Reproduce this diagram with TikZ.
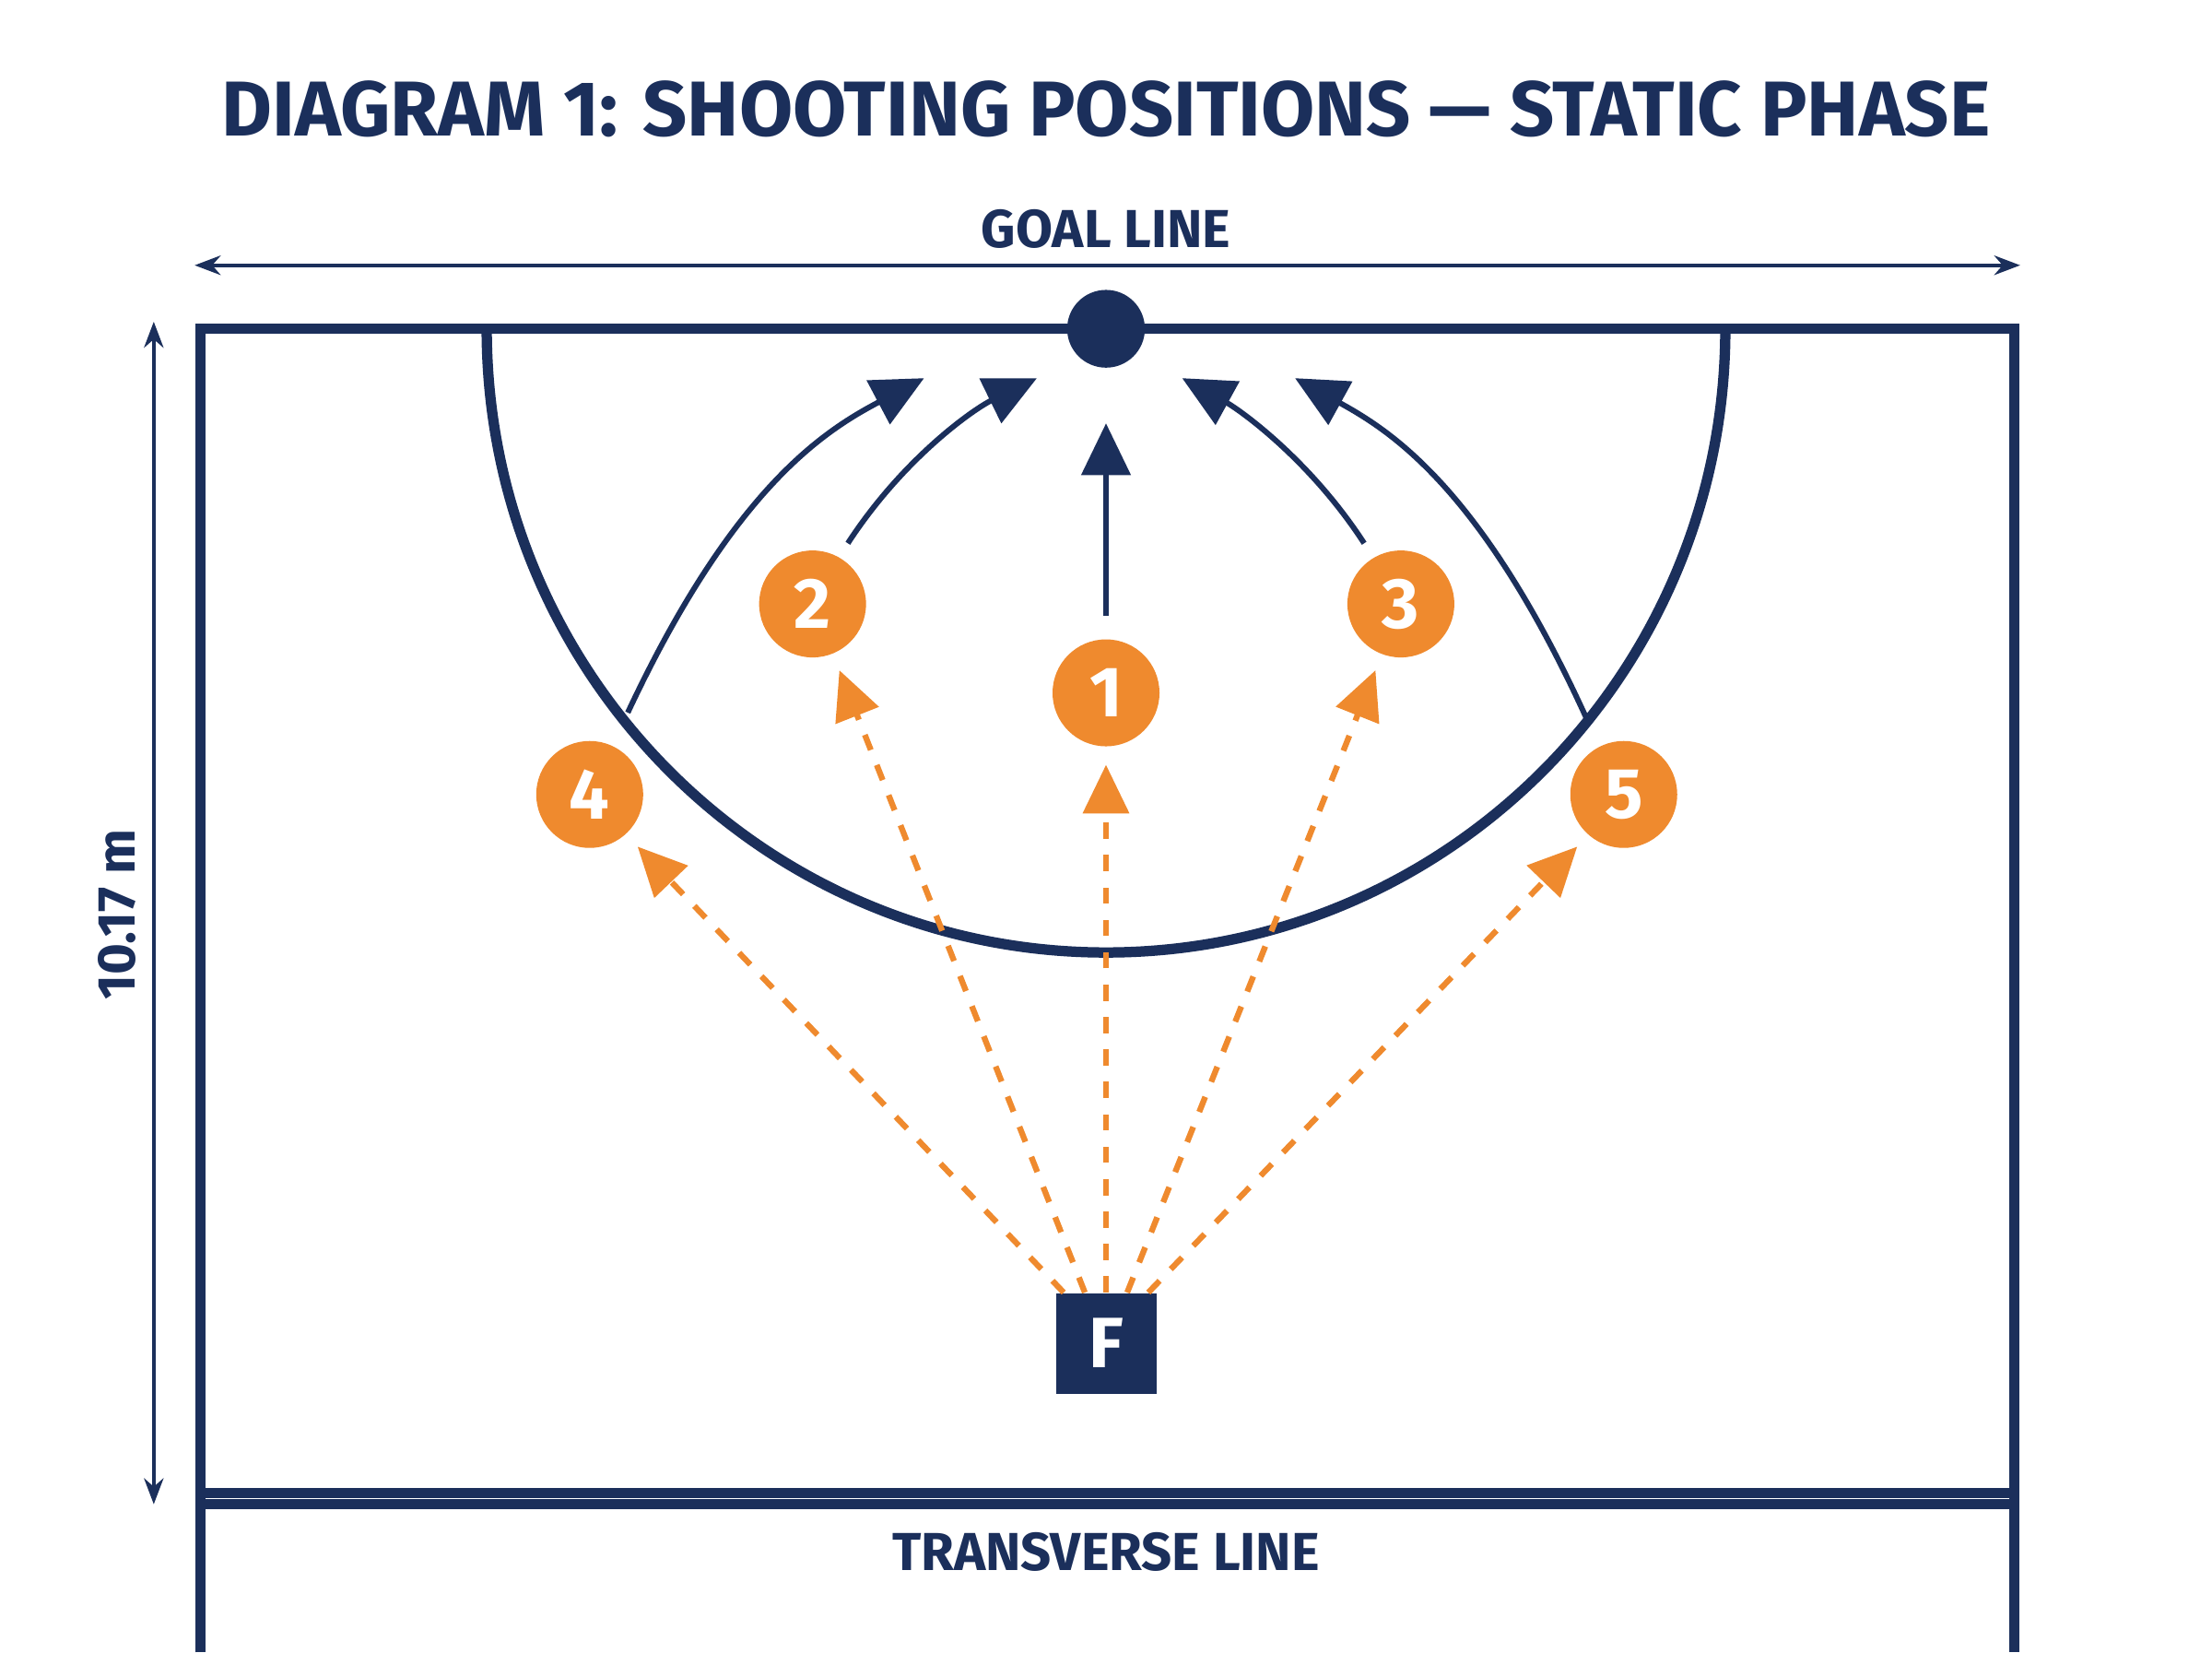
\documentclass[tikz,border=0pt]{standalone}
\usepackage{fontspec}
\setmainfont{Fira Sans}
\usetikzlibrary{arrows.meta,calc}
\definecolor{navy}{HTML}{1B2F5B}
\definecolor{orng}{HTML}{EF8A2E}
\tikzset{
	court/.style={navy, line width=3.2pt},
	run/.style={navy, line width=1.7pt, -{Triangle[length=16pt,width=15pt]}},
	pass/.style={orng, line width=1.8pt, dash pattern=on 5pt off 5pt, -{Triangle[length=15pt,width=14pt]}},
	player/.style={circle, fill=orng, minimum size=33pt, inner sep=0pt, text=white, font=\bfseries\fontsize{22}{22}\selectfont},
}

\begin{document}
\begin{tikzpicture}[x=0.015306cm,y=-0.015306cm]
\useasboundingbox[fill=white] (0,0) rectangle (1568,1171);

%% titres
\node[navy, font=\bfseries\fontsize{24}{24}\selectfont] (title) at (784,77) {DIAGRAM 1: SHOOTING POSITIONS — STATIC PHASE};
\node[navy, font=\bfseries\fontsize{16.5}{17}\selectfont] (gl) at (784,162) {GOAL LINE};
\node[navy, font=\bfseries\fontsize{16.5}{17}\selectfont] (tl) at (784,1100) {TRANSVERSE LINE};
\node[navy, font=\bfseries\fontsize{16.5}{17}\selectfont, rotate=90] (dim) at (83,648) {10.17 m};

%% cotes
\coordinate (gla) at (138,188);
\coordinate (glb) at (1432,188);
\draw[navy, line width=1.2pt, {Stealth[length=8pt]}-{Stealth[length=8pt]}] (gla)--(glb);
\coordinate (dma) at (109,228);
\coordinate (dmb) at (109,1066);
\draw[navy, line width=1.2pt, {Stealth[length=8pt]}-{Stealth[length=8pt]}] (dma)--(dmb);

%% terrain
\draw[court] (142,1171)--(142,233)--(1428,233)--(1428,1171);
\draw[court] (142,1058)--(1428,1058);
\draw[court] (142,1066)--(1428,1066);
\draw[court] (345,233) arc (180:0:439 and 442);
\node[circle, fill=navy, minimum size=24pt, inner sep=0pt] (goal) at (784,233) {};

%% joueurs
\node[player] (p1) at (784,491) {1};
\node[player] (p2) at (576,428) {2};
\node[player] (p3) at (993,428) {3};
\node[player] (p4) at (418,563) {4};
\node[player] (p5) at (1151,563) {5};
\node[fill=navy, minimum size=31pt, inner sep=0pt, text=white, font=\bfseries\fontsize{22}{22}\selectfont] (f) at (784,952) {F};

%% courses
\draw[run] (445,505) .. controls (520,345) and (585,305) .. (655,268);
\draw[run] (601,385) .. controls (640,325) and (690,290) .. (735,268);
\draw[run] ($(p1.north)+(0,-16)$) -- (784,300);
\draw[run] (967,385) .. controls (928,325) and (878,290) .. (838,268);
\draw[run] (1125,510) .. controls (1050,345) and (985,305) .. (918,268);

%% passes
\foreach \dx/\x/\y in {-30/452/600, -15/595/475, 0/784/542, 15/975/475, 30/1118/600}{
	\draw[pass] ($(f.north)+(\dx,0)$) -- (\x,\y);
}
\end{tikzpicture}
\end{document}
